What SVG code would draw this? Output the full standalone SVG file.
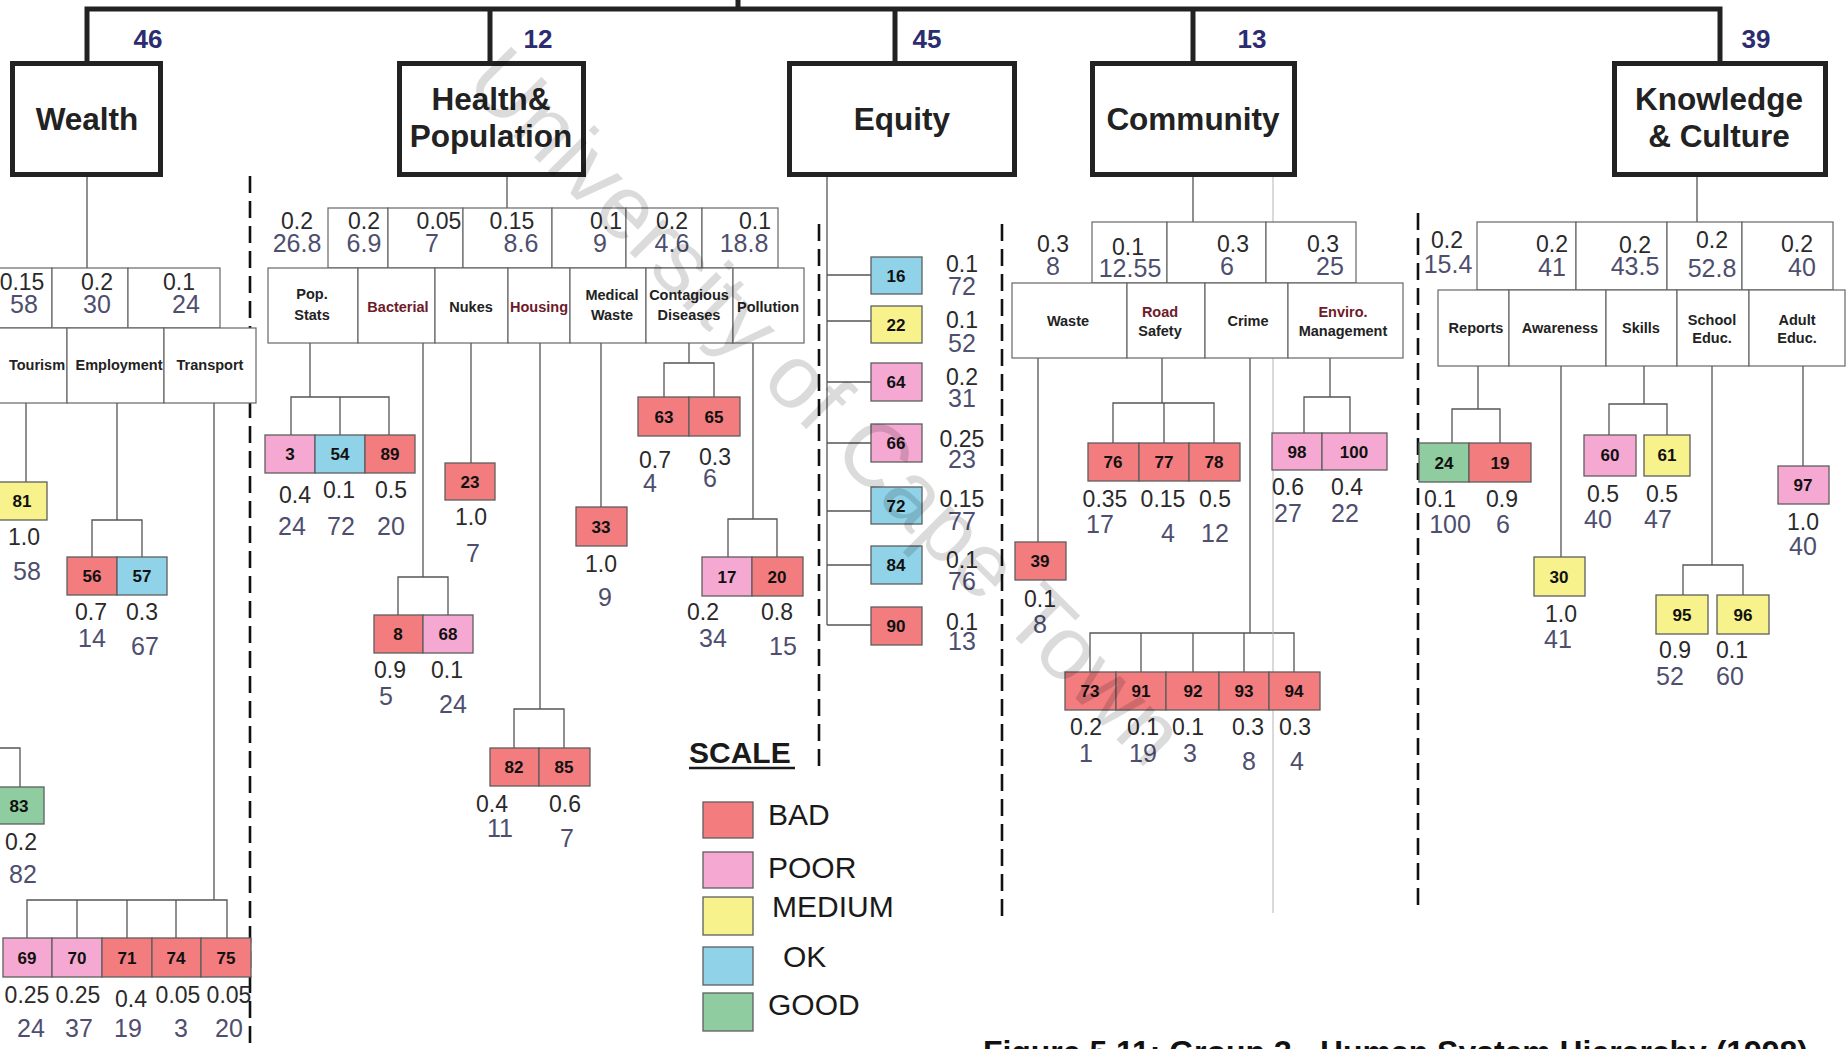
<svg xmlns="http://www.w3.org/2000/svg" width="1847" height="1049" viewBox="0 0 1847 1049">
<style>
text{font-family:"Liberation Sans",Arial,sans-serif}
.main{fill:#fff;stroke:#222;stroke-width:5}
.ttl{font-size:31.5px;font-weight:bold;fill:#222;text-anchor:middle}
.top{font-size:26px;font-weight:bold;fill:#2c2c70;text-anchor:middle}
.cell{fill:#fff;stroke:#666;stroke-width:1.2}
.w{font-size:23px;fill:#2a2a2a;text-anchor:middle}
.v{font-size:25px;fill:#4e4e6e;text-anchor:middle}
.nm{font-size:14.5px;font-weight:bold;fill:#222;text-anchor:middle}
.nr{fill:#6e1a2a}
.b{stroke:#5e5e5e;stroke-width:1.3}
.bad{fill:#f27c7e}.poor{fill:#f5a9d2}.med{fill:#f7f28c}.ok{fill:#90d3e8}.good{fill:#8fcca0}
.n{font-size:17px;font-weight:bold;fill:#111;text-anchor:middle}
.c{fill:none;stroke:#555;stroke-width:1.3}
.bus{fill:none;stroke:#222;stroke-width:5}
.dash{fill:none;stroke:#111;stroke-width:2.6;stroke-dasharray:17 8}
.leg{font-size:30px;fill:#1a1a1a}
</style>
<rect width="1847" height="1049" fill="#fff"/>

<!-- connectors -->
<g id="connectors">
  <path class="bus" d="M87,62 V9 H1720 V62 M490,9 V62 M895,9 V62 M1193,9 V62 M738,9 V0"/>
  <path class="c" d="M87,177 V268 M26,403 V482 M117,403 V520 M92,557 V520 H142 V557
    M214,403 V900 M27,938 V900 H227 V938 M77,900 V938 M127,900 V938 M176,900 V938 M0,748 H20 V787"/>
  <path class="c" d="M507,177 V208 M310,343 V397 M291,435 V397 H389 V435 M340,397 V435
    M423,343 V577 M398,615 V577 H448 V615 M471,343 V463 M540,343 V709 M514,748 V709 H564 V748
    M601,343 V507 M689,343 V363 M664,397 V363 H714 V397 M753,343 V519 M728,557 V519 H777 V557"/>
  <path class="c" d="M827,177 V625 M827,275 H871 M827,321 H871 M827,382 H871 M827,443 H871 M827,511 H871 M827,565 H871 M827,625 H871"/>
  <path class="c" d="M1193,177 V222 M1038,358 V542 M1162,358 V403 M1113,443 V403 H1214 V443 M1164,403 V443
    M1250,358 V633 M1090,672 V633 H1294 V672 M1141,633 V672 M1193,633 V672 M1244,633 V672
    M1330,358 V397 M1304,433 V397 H1350 V433"/>
  <path class="c" d="M1697,177 V222 M1478,366 V409 M1452,443 V409 H1500 V443 M1561,366 V557
    M1644,366 V404 M1609,435 V404 H1667 V435 M1712,366 V565 M1683,595 V565 H1743 V595 M1803,366 V466"/>
</g>

<!-- dashed separators and stray rule -->
<g id="separators">
  <path class="dash" d="M250,176 V1049 M819,224 V766 M1002,224 V922 M1418,213 V913"/>
  <path d="M1273,167 V913" stroke="#b4b4b4" stroke-width="1" fill="none"/>
</g>

<!-- top-level groups -->
<g id="wealth">
  <rect class="main" x="12.5" y="63.5" width="148" height="111"/>
  <text class="ttl" x="87" y="130">Wealth</text>
  <text class="top" x="148" y="48">46</text>
</g>
<g id="health">
  <rect class="main" x="399.5" y="63.5" width="184" height="111"/>
  <text class="ttl" x="491" y="110">Health&amp;</text>
  <text class="ttl" x="491" y="147">Population</text>
  <text class="top" x="538" y="48">12</text>
</g>
<g id="equity">
  <rect class="main" x="789.5" y="63.5" width="225" height="111"/>
  <text class="ttl" x="902" y="130">Equity</text>
  <text class="top" x="927" y="48">45</text>
</g>
<g id="community">
  <rect class="main" x="1092.5" y="63.5" width="202" height="111"/>
  <text class="ttl" x="1193" y="130">Community</text>
  <text class="top" x="1252" y="48">13</text>
</g>
<g id="knowledge">
  <rect class="main" x="1614.5" y="63.5" width="211" height="111"/>
  <text class="ttl" x="1719" y="110">Knowledge</text>
  <text class="ttl" x="1719" y="147">&amp; Culture</text>
  <text class="top" x="1756" y="48">39</text>
</g>

<!-- Wealth categories -->
<g id="wealth-weights">
  <rect class="cell" x="-10" y="268" width="62" height="60"/>
  <rect class="cell" x="52" y="268" width="76" height="60"/>
  <rect class="cell" x="128" y="268" width="92" height="60"/>
  <text class="w" x="22" y="290">0.15</text><text class="v" x="24" y="313">58</text>
  <text class="w" x="97" y="290">0.2</text><text class="v" x="97" y="313">30</text>
  <text class="w" x="179" y="290">0.1</text><text class="v" x="186" y="313">24</text>
</g>
<g id="wealth-names">
  <rect class="cell" x="-10" y="328" width="77" height="75"/>
  <rect class="cell" x="67" y="328" width="97" height="75"/>
  <rect class="cell" x="164" y="328" width="92" height="75"/>
  <text class="nm" x="37" y="370">Tourism</text>
  <text class="nm" x="119" y="370">Employment</text>
  <text class="nm" x="210" y="370">Transport</text>
</g>

<!-- Health categories -->
<g id="health-weights">
  <rect class="cell" x="328" y="208" width="60" height="60"/>
  <rect class="cell" x="388" y="208" width="75" height="60"/>
  <rect class="cell" x="463" y="208" width="89" height="60"/>
  <rect class="cell" x="552" y="208" width="74" height="60"/>
  <rect class="cell" x="626" y="208" width="76" height="60"/>
  <rect class="cell" x="702" y="208" width="76" height="60"/>
  <text class="w" x="297" y="229">0.2</text><text class="v" x="297" y="252">26.8</text>
  <text class="w" x="364" y="229">0.2</text><text class="v" x="364" y="252">6.9</text>
  <text class="w" x="439" y="229">0.05</text><text class="v" x="432" y="252">7</text>
  <text class="w" x="512" y="229">0.15</text><text class="v" x="521" y="252">8.6</text>
  <text class="w" x="606" y="229">0.1</text><text class="v" x="600" y="252">9</text>
  <text class="w" x="672" y="229">0.2</text><text class="v" x="672" y="252">4.6</text>
  <text class="w" x="755" y="229">0.1</text><text class="v" x="744" y="252">18.8</text>
</g>
<g id="health-names">
  <rect class="cell" x="268" y="268" width="90" height="75"/>
  <rect class="cell" x="358" y="268" width="77" height="75"/>
  <rect class="cell" x="435" y="268" width="73" height="75"/>
  <rect class="cell" x="508" y="268" width="62" height="75"/>
  <rect class="cell" x="570" y="268" width="76" height="75"/>
  <rect class="cell" x="646" y="268" width="87" height="75"/>
  <rect class="cell" x="733" y="268" width="71" height="75"/>
  <text class="nm" x="312" y="299">Pop.</text><text class="nm" x="312" y="320">Stats</text>
  <text class="nm nr" x="398" y="312">Bacterial</text>
  <text class="nm" x="471" y="312">Nukes</text>
  <text class="nm nr" x="539" y="312">Housing</text>
  <text class="nm" x="612" y="300">Medical</text><text class="nm" x="612" y="320">Waste</text>
  <text class="nm" x="689" y="300">Contagious</text><text class="nm" x="689" y="320">Diseases</text>
  <text class="nm" x="768" y="312">Pollution</text>
</g>

<!-- Community categories -->
<g id="community-weights">
  <rect class="cell" x="1092" y="222" width="75" height="61"/>
  <rect class="cell" x="1167" y="222" width="99" height="61"/>
  <rect class="cell" x="1266" y="222" width="90" height="61"/>
  <text class="w" x="1053" y="252">0.3</text><text class="v" x="1053" y="275">8</text>
  <text class="w" x="1128" y="255">0.1</text><text class="v" x="1130" y="277">12.55</text>
  <text class="w" x="1233" y="252">0.3</text><text class="v" x="1227" y="275">6</text>
  <text class="w" x="1323" y="252">0.3</text><text class="v" x="1330" y="275">25</text>
</g>
<g id="community-names">
  <rect class="cell" x="1012" y="283" width="115" height="75"/>
  <rect class="cell" x="1127" y="283" width="78" height="75"/>
  <rect class="cell" x="1205" y="283" width="83" height="75"/>
  <rect class="cell" x="1288" y="283" width="115" height="75"/>
  <text class="nm" x="1068" y="326">Waste</text>
  <text class="nm nr" x="1160" y="317">Road</text><text class="nm" x="1160" y="336">Safety</text>
  <text class="nm" x="1248" y="326">Crime</text>
  <text class="nm nr" x="1343" y="317">Enviro.</text><text class="nm" x="1343" y="336">Management</text>
</g>

<!-- Knowledge categories -->
<g id="knowledge-weights">
  <rect class="cell" x="1477" y="222" width="99" height="68"/>
  <rect class="cell" x="1576" y="222" width="91" height="68"/>
  <rect class="cell" x="1667" y="222" width="75" height="68"/>
  <rect class="cell" x="1742" y="222" width="91" height="68"/>
  <text class="w" x="1447" y="248">0.2</text><text class="v" x="1448" y="273">15.4</text>
  <text class="w" x="1552" y="252">0.2</text><text class="v" x="1552" y="276">41</text>
  <text class="w" x="1635" y="253">0.2</text><text class="v" x="1635" y="275">43.5</text>
  <text class="w" x="1712" y="248">0.2</text><text class="v" x="1712" y="277">52.8</text>
  <text class="w" x="1797" y="252">0.2</text><text class="v" x="1802" y="276">40</text>
</g>
<g id="knowledge-names">
  <rect class="cell" x="1438" y="290" width="71" height="76"/>
  <rect class="cell" x="1509" y="290" width="97" height="76"/>
  <rect class="cell" x="1606" y="290" width="71" height="76"/>
  <rect class="cell" x="1677" y="290" width="72" height="76"/>
  <rect class="cell" x="1749" y="290" width="96" height="76"/>
  <text class="nm" x="1476" y="333">Reports</text>
  <text class="nm" x="1560" y="333">Awareness</text>
  <text class="nm" x="1641" y="333">Skills</text>
  <text class="nm" x="1712" y="325">School</text><text class="nm" x="1712" y="343">Educ.</text>
  <text class="nm" x="1797" y="325">Adult</text><text class="nm" x="1797" y="343">Educ.</text>
</g>

<!-- Wealth indicators -->
<g id="i81"><rect class="b med" x="-3" y="482" width="50" height="38"/><text class="n" x="22" y="507">81</text><text class="w" x="24" y="545">1.0</text><text class="v" x="27" y="580">58</text></g>
<g id="i56"><rect class="b bad" x="67" y="557" width="50" height="38"/><text class="n" x="92" y="582">56</text><text class="w" x="91" y="620">0.7</text><text class="v" x="92" y="647">14</text></g>
<g id="i57"><rect class="b ok" x="117" y="557" width="50" height="38"/><text class="n" x="142" y="582">57</text><text class="w" x="142" y="620">0.3</text><text class="v" x="145" y="655">67</text></g>
<g id="i83"><rect class="b good" x="-6" y="787" width="50" height="37"/><text class="n" x="19" y="812">83</text><text class="w" x="21" y="850">0.2</text><text class="v" x="23" y="883">82</text></g>
<g id="i69"><rect class="b poor" x="3" y="938" width="49" height="39"/><text class="n" x="27" y="964">69</text><text class="w" x="27" y="1003">0.25</text><text class="v" x="31" y="1037">24</text></g>
<g id="i70"><rect class="b poor" x="52" y="938" width="50" height="39"/><text class="n" x="77" y="964">70</text><text class="w" x="78" y="1003">0.25</text><text class="v" x="79" y="1037">37</text></g>
<g id="i71"><rect class="b bad" x="102" y="938" width="50" height="39"/><text class="n" x="127" y="964">71</text><text class="w" x="131" y="1007">0.4</text><text class="v" x="128" y="1037">19</text></g>
<g id="i74"><rect class="b bad" x="152" y="938" width="49" height="39"/><text class="n" x="176" y="964">74</text><text class="w" x="178" y="1003">0.05</text><text class="v" x="181" y="1037">3</text></g>
<g id="i75"><rect class="b bad" x="201" y="938" width="50" height="39"/><text class="n" x="226" y="964">75</text><text class="w" x="229" y="1003">0.05</text><text class="v" x="229" y="1037">20</text></g>

<!-- Health indicators -->
<g id="i3"><rect class="b poor" x="265" y="435" width="50" height="38"/><text class="n" x="290" y="460">3</text><text class="w" x="295" y="503">0.4</text><text class="v" x="292" y="535">24</text></g>
<g id="i54"><rect class="b ok" x="315" y="435" width="50" height="38"/><text class="n" x="340" y="460">54</text><text class="w" x="339" y="498">0.1</text><text class="v" x="341" y="535">72</text></g>
<g id="i89"><rect class="b bad" x="365" y="435" width="50" height="38"/><text class="n" x="390" y="460">89</text><text class="w" x="391" y="498">0.5</text><text class="v" x="391" y="535">20</text></g>
<g id="i8"><rect class="b bad" x="374" y="615" width="49" height="38"/><text class="n" x="398" y="640">8</text><text class="w" x="390" y="678">0.9</text><text class="v" x="386" y="705">5</text></g>
<g id="i68"><rect class="b poor" x="423" y="615" width="50" height="38"/><text class="n" x="448" y="640">68</text><text class="w" x="447" y="678">0.1</text><text class="v" x="453" y="713">24</text></g>
<g id="i23"><rect class="b bad" x="445" y="463" width="50" height="37"/><text class="n" x="470" y="488">23</text><text class="w" x="471" y="525">1.0</text><text class="v" x="473" y="562">7</text></g>
<g id="i82"><rect class="b bad" x="490" y="748" width="49" height="38"/><text class="n" x="514" y="773">82</text><text class="w" x="492" y="812">0.4</text><text class="v" x="500" y="837">11</text></g>
<g id="i85"><rect class="b bad" x="539" y="748" width="51" height="38"/><text class="n" x="564" y="773">85</text><text class="w" x="565" y="812">0.6</text><text class="v" x="567" y="847">7</text></g>
<g id="i33"><rect class="b bad" x="576" y="507" width="51" height="39"/><text class="n" x="601" y="533">33</text><text class="w" x="601" y="572">1.0</text><text class="v" x="605" y="606">9</text></g>
<g id="i63"><rect class="b bad" x="638" y="397" width="51" height="39"/><text class="n" x="664" y="423">63</text><text class="w" x="655" y="468">0.7</text><text class="v" x="650" y="492">4</text></g>
<g id="i65"><rect class="b bad" x="689" y="397" width="51" height="39"/><text class="n" x="714" y="423">65</text><text class="w" x="715" y="465">0.3</text><text class="v" x="710" y="487">6</text></g>
<g id="i17"><rect class="b poor" x="702" y="557" width="50" height="39"/><text class="n" x="727" y="583">17</text><text class="w" x="703" y="620">0.2</text><text class="v" x="713" y="647">34</text></g>
<g id="i20"><rect class="b bad" x="752" y="557" width="51" height="39"/><text class="n" x="777" y="583">20</text><text class="w" x="777" y="620">0.8</text><text class="v" x="783" y="655">15</text></g>

<!-- Equity indicators -->
<g id="i16"><rect class="b ok" x="871" y="257" width="51" height="37"/><text class="n" x="896" y="282">16</text><text class="w" x="962" y="272">0.1</text><text class="v" x="962" y="295">72</text></g>
<g id="i22"><rect class="b med" x="871" y="306" width="51" height="37"/><text class="n" x="896" y="331">22</text><text class="w" x="962" y="328">0.1</text><text class="v" x="962" y="352">52</text></g>
<g id="i64"><rect class="b poor" x="871" y="363" width="51" height="38"/><text class="n" x="896" y="388">64</text><text class="w" x="962" y="385">0.2</text><text class="v" x="962" y="407">31</text></g>
<g id="i66"><rect class="b poor" x="871" y="424" width="51" height="38"/><text class="n" x="896" y="449">66</text><text class="w" x="962" y="447">0.25</text><text class="v" x="962" y="468">23</text></g>
<g id="i72"><rect class="b ok" x="871" y="487" width="51" height="37"/><text class="n" x="896" y="512">72</text><text class="w" x="962" y="507">0.15</text><text class="v" x="962" y="530">77</text></g>
<g id="i84"><rect class="b ok" x="871" y="546" width="51" height="38"/><text class="n" x="896" y="571">84</text><text class="w" x="962" y="568">0.1</text><text class="v" x="962" y="590">76</text></g>
<g id="i90"><rect class="b bad" x="871" y="607" width="51" height="38"/><text class="n" x="896" y="632">90</text><text class="w" x="962" y="630">0.1</text><text class="v" x="962" y="650">13</text></g>

<!-- Community indicators -->
<g id="i39"><rect class="b bad" x="1015" y="542" width="51" height="38"/><text class="n" x="1040" y="567">39</text><text class="w" x="1040" y="607">0.1</text><text class="v" x="1040" y="633">8</text></g>
<g id="i76"><rect class="b bad" x="1088" y="443" width="51" height="38"/><text class="n" x="1113" y="468">76</text><text class="w" x="1105" y="507">0.35</text><text class="v" x="1100" y="533">17</text></g>
<g id="i77"><rect class="b bad" x="1139" y="443" width="50" height="38"/><text class="n" x="1164" y="468">77</text><text class="w" x="1163" y="507">0.15</text><text class="v" x="1168" y="542">4</text></g>
<g id="i78"><rect class="b bad" x="1189" y="443" width="51" height="38"/><text class="n" x="1214" y="468">78</text><text class="w" x="1215" y="507">0.5</text><text class="v" x="1215" y="542">12</text></g>
<g id="i73"><rect class="b bad" x="1065" y="672" width="51" height="38"/><text class="n" x="1090" y="697">73</text><text class="w" x="1086" y="735">0.2</text><text class="v" x="1086" y="762">1</text></g>
<g id="i91"><rect class="b bad" x="1116" y="672" width="50" height="38"/><text class="n" x="1141" y="697">91</text><text class="w" x="1143" y="735">0.1</text><text class="v" x="1143" y="762">19</text></g>
<g id="i92"><rect class="b bad" x="1166" y="672" width="53" height="38"/><text class="n" x="1193" y="697">92</text><text class="w" x="1188" y="735">0.1</text><text class="v" x="1190" y="762">3</text></g>
<g id="i93"><rect class="b bad" x="1219" y="672" width="50" height="38"/><text class="n" x="1244" y="697">93</text><text class="w" x="1248" y="735">0.3</text><text class="v" x="1249" y="770">8</text></g>
<g id="i94"><rect class="b bad" x="1269" y="672" width="51" height="38"/><text class="n" x="1294" y="697">94</text><text class="w" x="1295" y="735">0.3</text><text class="v" x="1297" y="770">4</text></g>
<g id="i98"><rect class="b poor" x="1272" y="433" width="50" height="37"/><text class="n" x="1297" y="458">98</text><text class="w" x="1288" y="495">0.6</text><text class="v" x="1288" y="522">27</text></g>
<g id="i100"><rect class="b poor" x="1322" y="433" width="65" height="37"/><text class="n" x="1354" y="458">100</text><text class="w" x="1347" y="495">0.4</text><text class="v" x="1345" y="522">22</text></g>

<!-- Knowledge indicators -->
<g id="i24"><rect class="b good" x="1419" y="443" width="50" height="39"/><text class="n" x="1444" y="469">24</text><text class="w" x="1440" y="507">0.1</text><text class="v" x="1450" y="533">100</text></g>
<g id="i19"><rect class="b bad" x="1469" y="443" width="62" height="39"/><text class="n" x="1500" y="469">19</text><text class="w" x="1502" y="507">0.9</text><text class="v" x="1503" y="533">6</text></g>
<g id="i30"><rect class="b med" x="1534" y="557" width="51" height="39"/><text class="n" x="1559" y="583">30</text><text class="w" x="1561" y="622">1.0</text><text class="v" x="1558" y="648">41</text></g>
<g id="i60"><rect class="b poor" x="1584" y="435" width="52" height="41"/><text class="n" x="1610" y="461">60</text><text class="w" x="1603" y="502">0.5</text><text class="v" x="1598" y="528">40</text></g>
<g id="i61"><rect class="b med" x="1644" y="435" width="46" height="41"/><text class="n" x="1667" y="461">61</text><text class="w" x="1662" y="502">0.5</text><text class="v" x="1658" y="528">47</text></g>
<g id="i95"><rect class="b med" x="1656" y="595" width="52" height="39"/><text class="n" x="1682" y="621">95</text><text class="w" x="1675" y="658">0.9</text><text class="v" x="1670" y="685">52</text></g>
<g id="i96"><rect class="b med" x="1717" y="595" width="52" height="39"/><text class="n" x="1743" y="621">96</text><text class="w" x="1732" y="658">0.1</text><text class="v" x="1730" y="685">60</text></g>
<g id="i97"><rect class="b poor" x="1778" y="466" width="51" height="38"/><text class="n" x="1803" y="491">97</text><text class="w" x="1803" y="530">1.0</text><text class="v" x="1803" y="555">40</text></g>

<!-- colour scale -->
<g id="legend">
  <text x="689" y="763" font-size="30" font-weight="bold" fill="#1a1a1a">SCALE</text>
  <path d="M689,768 H795" stroke="#1a1a1a" stroke-width="2.5"/>
  <rect class="b bad" x="703" y="802" width="50" height="36"/><text class="leg" x="768" y="825">BAD</text>
  <rect class="b poor" x="703" y="852" width="50" height="36"/><text class="leg" x="768" y="878">POOR</text>
  <rect class="b med" x="703" y="897" width="50" height="38"/><text class="leg" x="772" y="917">MEDIUM</text>
  <rect class="b ok" x="703" y="947" width="50" height="38"/><text class="leg" x="783" y="967">OK</text>
  <rect class="b good" x="703" y="993" width="50" height="38"/><text class="leg" x="768" y="1015">GOOD</text>
</g>

<text id="caption" x="983" y="1063" font-size="31" font-weight="bold" fill="#111" textLength="825" lengthAdjust="spacingAndGlyphs">Figure 5.11: Group 3 - Human System Hierarchy (1998)</text>

<text id="watermark" x="805" y="428" font-size="90" fill="#000" fill-opacity="0.14" text-anchor="middle" transform="rotate(45 805 428)">University of Cape Town</text>
</svg>
